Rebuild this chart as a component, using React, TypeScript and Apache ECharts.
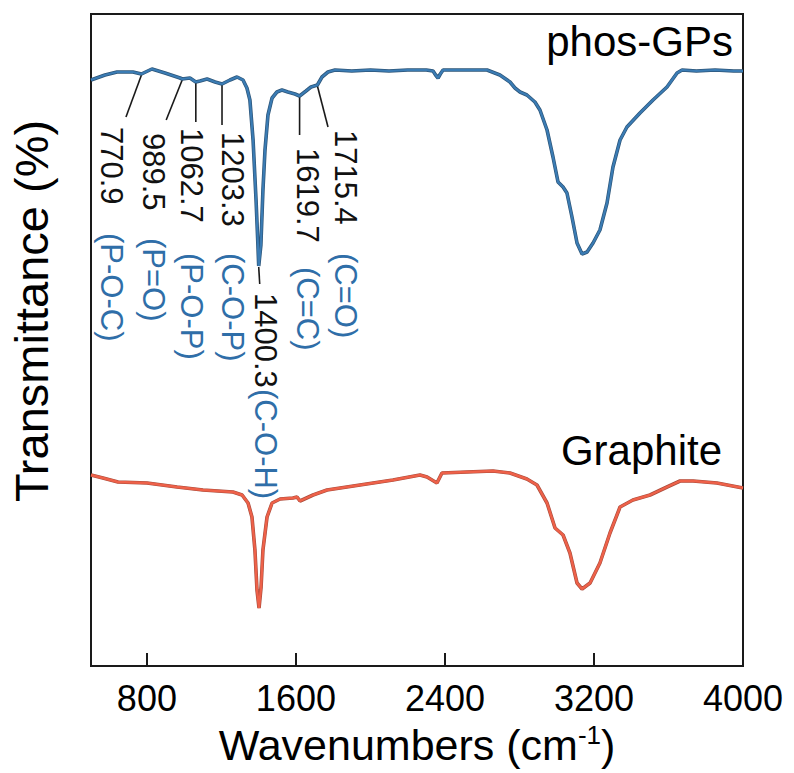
import { useEffect, useRef } from "react";
import * as echarts from "echarts";

// FTIR spectra, offset vertically (arbitrary transmittance units)
const phosWavenumber = [
  500, 575, 640, 725, 770.9, 827, 897, 978, 989.5, 1031, 1062.7, 1085, 1123, 1166, 1203.3, 1246, 1284,
  1316, 1337, 1353, 1370, 1386, 1396, 1400.3, 1412, 1423, 1434, 1450, 1472, 1498, 1525, 1557, 1595,
  1619.7, 1654, 1681, 1715.4, 1740, 1772, 1810, 1900, 2000, 2100, 2200, 2300, 2336, 2350, 2363, 2375,
  2390, 2500, 2626, 2695, 2749, 2776, 2803, 2840, 2883, 2910, 2948, 2980, 3007, 3034, 3055, 3082, 3109,
  3136, 3163, 3195, 3232, 3270, 3302, 3340, 3377, 3447, 3517, 3592, 3646, 3673, 3750, 3850, 3950, 4000,
];
const phosSignal = [
  586, 591, 594, 594, 592, 597, 593, 588, 587, 588, 584, 585, 587, 584, 582, 586, 589,
  586, 578, 566, 526, 466, 421, 400, 421, 476, 516, 551, 568, 574, 576, 574, 572,
  570, 575, 579, 581, 589, 594, 596, 595, 596, 595, 596, 596, 595, 591, 588, 592,
  596, 596, 596, 591, 584, 578, 574, 571, 564, 556, 536, 509, 484, 479, 473, 449, 423,
  412, 414, 423, 436, 463, 499, 526, 539, 553, 566, 579, 593, 596, 595, 596, 595, 595,
];

const graphiteWavenumber = [
  500, 564, 645, 801, 962, 1101, 1262, 1311, 1343, 1364, 1380, 1391, 1402, 1413, 1423, 1445, 1472,
  1515, 1584, 1606, 1622, 1692, 1767, 1944, 2121, 2266, 2304, 2357, 2384, 2518, 2658, 2749, 2840,
  2894, 2948, 2991, 3034, 3071, 3109, 3136, 3179, 3232, 3286, 3340, 3409, 3501, 3592, 3662, 3732,
  3860, 4000,
];
const graphiteSignal = [
  191, 188, 184, 183, 179, 176, 174, 171, 163, 149, 116, 76, 58, 79, 116, 149, 163,
  167, 168, 169, 165, 171, 176, 181, 186, 191, 189, 183, 193, 194, 195, 193, 187,
  181, 163, 138, 131, 113, 83, 77, 83, 103, 133, 159, 166, 171, 179, 185, 185,
  183, 178,
];

const xTicks = [800, 1600, 2400, 3200, 4000];

const peakPositions = [770.9, 989.5, 1062.7, 1203.3, 1400.3, 1619.7, 1715.4];
const peakGroups = ["(P-O-C)", "(P=O)", "(P-O-P)", "(C-O-P)", "(C-O-H)", "(C=C)", "(C=O)"];

// callout placement: text column offset from the peak, leader end, text starts
const calloutLayout = [
  { col: -30, endDx: -15.5, endY: 117, numY: 127, groupY: 233 },
  { col: -28.5, endDx: -16, endY: 120, numY: 133, groupY: 238 },
  { col: -4.5, endDx: 0, endY: 122, numY: 128, groupY: 253 },
  { col: 10.5, endDx: 0, endY: 125, numY: 132, groupY: 253 },
  { col: 7, endDx: 1, endY: 284, numY: 293, groupY: 389 },
  { col: 8, endDx: 0, endY: 135, numY: 148, groupY: 267 },
  { col: 27.6, endDx: 10.6, endY: 127, numY: 130, groupY: 253 },
];

const FONT = "'Liberation Sans', Arial, Helvetica, sans-serif";
const BLUE = "#3b7cb4";
const BLUE_EDGE = "#2d5578";
const RED = "#ee6149";
const RED_EDGE = "#a84c3c";
const LABEL_BLUE = "#2f6ea8";

function zip(xs: number[], ys: number[]) {
  return xs.map((x, i) => [x, ys[i]]);
}

function interp(xs: number[], ys: number[], x: number) {
  for (let i = 0; i < xs.length - 1; i++) {
    if (x >= xs[i] && x <= xs[i + 1]) {
      const t = (x - xs[i]) / (xs[i + 1] - xs[i]);
      return ys[i] + t * (ys[i + 1] - ys[i]);
    }
  }
  return ys[ys.length - 1];
}

export default function App() {
  const ref = useRef<HTMLDivElement>(null);

  useEffect(() => {
    document.body.style.margin = "0";
    if (!ref.current) return;
    const chart = echarts.init(ref.current, undefined, { renderer: "svg" });

    const lineSeries = (name: string, data: number[][], color: string, width: number, z: number) => ({
      name,
      type: "line",
      data,
      showSymbol: false,
      silent: true,
      z,
      lineStyle: { color, width },
    });

    const phosData = zip(phosWavenumber, phosSignal);
    const graphiteData = zip(graphiteWavenumber, graphiteSignal);

    chart.setOption({
      animation: false,
      backgroundColor: "#fff",
      grid: {
        left: 91,
        top: 14,
        width: 652,
        height: 652,
        show: true,
        borderColor: "#1a1a1a",
        borderWidth: 2,
        backgroundColor: "transparent",
      },
      xAxis: {
        type: "value",
        min: 500,
        max: 4000,
        axisLine: { show: true, onZero: false, lineStyle: { color: "#1a1a1a", width: 2 } },
        axisTick: {
          show: true,
          inside: true,
          length: 13,
          customValues: xTicks,
          lineStyle: { color: "#1a1a1a", width: 2 },
        },
        axisLabel: {
          customValues: xTicks,
          showMaxLabel: true,
          formatter: (v: number) => String(v),
          fontSize: 36,
          fontFamily: FONT,
          color: "#000",
          margin: 14,
        },
        splitLine: { show: false },
        name: "Wavenumbers (cm{sup|-1})",
        nameLocation: "middle",
        nameGap: 56,
        nameTextStyle: {
          fontSize: 43,
          fontFamily: FONT,
          color: "#000",
          rich: {
            sup: { fontSize: 26, fontFamily: FONT, color: "#000", padding: [0, 0, 20, 0] },
          },
        },
      },
      yAxis: {
        type: "value",
        min: 0,
        max: 652,
        axisLine: { show: true, lineStyle: { color: "#1a1a1a", width: 2 } },
        axisTick: { show: false },
        axisLabel: { show: false },
        splitLine: { show: false },
      },
      series: [
        lineSeries("phos-GPs edge", phosData, BLUE_EDGE, 3.6, 2),
        lineSeries("phos-GPs", phosData, BLUE, 2.2, 3),
        lineSeries("Graphite edge", graphiteData, RED_EDGE, 3.6, 2),
        lineSeries("Graphite", graphiteData, RED, 2.4, 3),
      ],
    });

    const graphics: any[] = [
      {
        type: "text",
        x: 31,
        y: 311,
        rotation: Math.PI / 2,
        style: {
          text: "Transmittance (%)",
          fontSize: 47,
          fontFamily: FONT,
          fill: "#000",
          align: "center",
          verticalAlign: "middle",
        },
      },
      {
        type: "text",
        x: 733,
        y: 41,
        style: {
          text: "phos-GPs",
          fontSize: 42,
          fontFamily: FONT,
          fill: "#000",
          align: "right",
          verticalAlign: "middle",
        },
      },
      {
        type: "text",
        x: 722,
        y: 450,
        style: {
          text: "Graphite",
          fontSize: 42,
          fontFamily: FONT,
          fill: "#000",
          align: "right",
          verticalAlign: "middle",
        },
      },
    ];

    peakPositions.forEach((wn, i) => {
      const lay = calloutLayout[i];
      const [px, py] = chart.convertToPixel({ gridIndex: 0 }, [
        wn,
        interp(phosWavenumber, phosSignal, wn),
      ]) as number[];
      graphics.push({
        type: "line",
        shape: { x1: px, y1: py + 1, x2: px + lay.endDx, y2: lay.endY },
        style: { stroke: "#1a1a1a", lineWidth: 1.6 },
      });
      graphics.push({
        type: "text",
        x: px + lay.col,
        y: lay.numY,
        rotation: -Math.PI / 2,
        style: {
          text: wn.toFixed(1),
          fontSize: 31,
          fontFamily: FONT,
          fill: "#111",
          align: "left",
          verticalAlign: "middle",
        },
      });
      graphics.push({
        type: "text",
        x: px + lay.col,
        y: lay.groupY,
        rotation: -Math.PI / 2,
        style: {
          text: peakGroups[i],
          fontSize: 31,
          fontFamily: FONT,
          fill: LABEL_BLUE,
          align: "left",
          verticalAlign: "middle",
        },
      });
    });

    chart.setOption({ graphic: graphics });

    return () => chart.dispose();
  }, []);

  return <div ref={ref} style={{ width: 794, height: 773 }} />;
}
